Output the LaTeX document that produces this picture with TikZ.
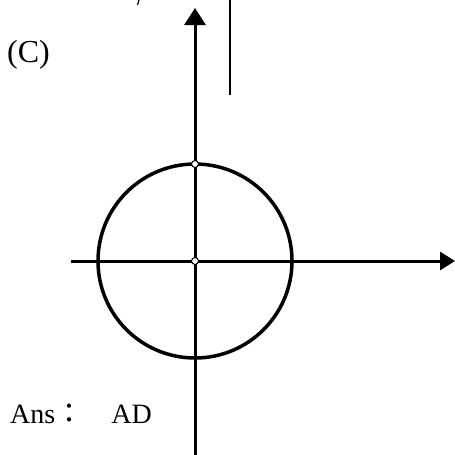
\documentclass[tikz,border=0pt]{standalone}
\usepackage{fontspec}
\setmainfont{Liberation Serif}
\newfontfamily\cjk{Noto Sans CJK TC}
\usetikzlibrary{arrows.meta}

\begin{document}
\begin{tikzpicture}[
		x=1pt,y=-1pt,
		every node/.style={font=\fontsize{27pt}{32pt}\selectfont, inner sep=0pt},
		achse/.style={line width=3pt},
		punkt/.style={circle, draw, fill=white, line width=1pt, minimum size=7pt}
		]
		\useasboundingbox (0,0) rectangle (455,455);
		
		% Achsen
		\coordinate (ylo) at (195,455);
		\coordinate (yhi) at (195,8);
		\coordinate (xlo) at (71,261);
		\coordinate (xhi) at (455,261);
		\draw [achse, -{Triangle[length=17pt,width=21pt]}] (ylo) -- (yhi);
		\draw [achse, -{Triangle[length=15pt,width=18pt]}] (xlo) -- (xhi);
		
		% Kreis
		\draw [line width=3.5pt] (195,261) circle (97);
		
		% Reste oben
		\draw [line width=1.5pt] (230,0) -- (230,95);
		\draw [line width=1.2pt] (139,0) -- (137.5,5);
		
		% Punkte
		\node [punkt] (o) at (195,261) {};
		\node [punkt] (p) at (195,164) {};
		
		% Texte
		\node [anchor=base west, font=\fontsize{32pt}{38pt}\selectfont] (c) at (7,62) {(C)};
		\node [anchor=base west, font=\fontsize{28pt}{34pt}\selectfont] (ans) at (10,423) {Ans{\cjk ：　}AD};
		
	\end{tikzpicture}
\end{document}
